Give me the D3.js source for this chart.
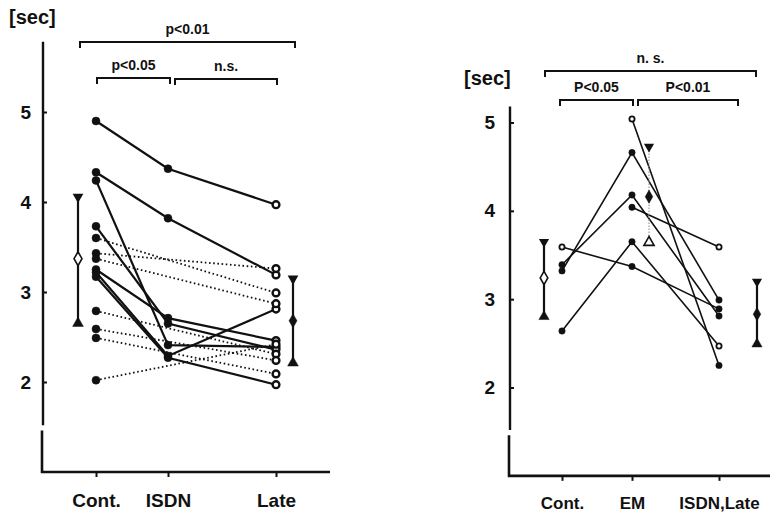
<!DOCTYPE html>
<html>
<head>
<meta charset="utf-8">
<script src="https://cdn.jsdelivr.net/npm/d3@7"></script>
<style>
  body { margin: 0; background: #fff; }
  text { font-family: "Liberation Sans", Arial, sans-serif; font-weight: bold; fill: #111; }
</style>
</head>
<body>
<svg id="chart" width="770" height="513"></svg>
<script>
const tickValues = [2, 3, 4, 5];

// left panel: Cont. -> ISDN -> Late
const leftCats = ["Cont.", "ISDN", "Late"];
const leftSolid = [
    [4.90, 4.37, 3.97],
    [4.33, 3.82, 3.19],
    [4.24, 2.41, 2.39],
    [3.73, 2.65, 2.36],
    [3.25, 2.71, 2.46],
    [3.22, 2.29, 2.81],
    [3.17, 2.27, 1.97]
];
// patients measured only at Cont. and Late (dotted)
const leftDottedCont = [3.60, 3.43, 3.37, 2.79, 2.59, 2.49, 2.02];
const leftDottedLate = [2.99, 3.26, 2.87, 2.31, 2.24, 2.09, 2.42];
const leftStatCats = ["Cont.", "Late"];
const leftHi = [4.08, 3.17];
const leftMean = [3.37, 2.68];
const leftLo = [2.63, 2.19];
const leftMeanOpen = [true, false];

// right panel: Cont. -> EM -> ISDN,Late
const rightCats = ["Cont.", "EM", "ISDN,Late"];
const rightSeries = [
    [3.59, 3.37, 2.89],
    [3.39, 4.18, 2.81],
    [3.32, 4.66, 2.99],
    [2.64, 3.65, 2.47],
    [null, 5.04, 2.25],
    [null, 4.04, 3.59]
];
const rightOpen = [
    [true, false, false],
    [false, false, false],
    [false, false, false],
    [false, false, true],
    [false, true, false],
    [false, false, true]
];
const rightHi = [3.67, 4.75, 3.22];
const rightMean = [3.24, 4.16, 2.83];
const rightLo = [2.78, 3.62, 2.47];
const rightMeanOpen = [true, false, false];
const rightLoOpen = [false, true, false];
const rightStatDotted = [false, true, false];

const svg = d3.select("#chart");

function drawAxes(p) {
    const g = svg.append("g");
    // y axis with a break near the bottom
    g.append("line").attr("x1", p.axisX).attr("x2", p.axisX)
        .attr("y1", p.y(p.top)).attr("y2", p.y(p.breakHi))
        .attr("stroke", "#111").attr("stroke-width", 2.4);
    g.append("path")
        .attr("d", `M${p.axisX - 1},${p.y(p.breakLo)}L${p.axisX - 1},${p.y(1)}L${p.xEnd},${p.y(1)}`)
        .attr("fill", "none").attr("stroke", "#111").attr("stroke-width", 2.6);

    const ya = g.append("g").attr("transform", `translate(${p.axisX},0)`)
        .call(d3.axisLeft(p.y).tickValues(tickValues).tickSize(-4).tickSizeOuter(0).tickPadding(p.labelPad).tickFormat(d3.format("d")));
    ya.select(".domain").remove();
    ya.selectAll(".tick line").attr("stroke", "#111").attr("stroke-width", 2);
    ya.selectAll(".tick text").attr("font-size", 19).attr("font-family", null).attr("fill", "#111");

    const xa = g.append("g").attr("transform", `translate(0,${p.y(1)})`)
        .call(d3.axisBottom(p.x).tickSize(5).tickSizeOuter(0).tickPadding(p.catPad));
    xa.select(".domain").remove();
    xa.selectAll(".tick line").attr("stroke", "#111").attr("stroke-width", 2);
    xa.selectAll(".tick text").attr("font-size", p.catSize).attr("font-family", null).attr("fill", "#111");

    g.append("text").attr("x", p.secX).attr("y", p.secY).attr("font-size", 20).text("[sec]");

    p.brackets.forEach(b => {
        g.append("path")
            .attr("d", `M${b.x1},${b.y + 6}V${b.y}H${b.x2}V${b.y + 6}`)
            .attr("fill", "none").attr("stroke", "#111").attr("stroke-width", 2);
        g.append("text").attr("x", (b.x1 + b.x2) / 2 + (b.dx || 0)).attr("y", b.y - 8)
            .attr("text-anchor", "middle").attr("font-size", 14).text(b.label);
    });
}

function drawStats(p, cats, hi, mean, lo, meanOpen, loOpen, dotted) {
    const g = svg.append("g");
    const tri = d3.symbol().type(d3.symbolTriangle).size(p.triSize);
    const dia = d3.symbol().type(d3.symbolDiamond).size(p.diaSize);
    cats.forEach((c, i) => {
        const x = p.sx(c);
        g.append("line").attr("x1", x).attr("x2", x)
            .attr("y1", p.y(hi[i])).attr("y2", p.y(lo[i]))
            .attr("stroke", dotted && dotted[i] ? "#999" : "#111")
            .attr("stroke-width", dotted && dotted[i] ? 1.2 : 2.2)
            .attr("stroke-dasharray", dotted && dotted[i] ? "1.5,1.5" : null);
        g.append("path").attr("d", tri)
            .attr("transform", `translate(${x},${p.y(hi[i]) + 2}) rotate(180)`)
            .attr("fill", "#111");
        const open = loOpen && loOpen[i];
        g.append("path").attr("d", tri)
            .attr("transform", `translate(${x},${p.y(lo[i]) - 2})`)
            .attr("fill", open ? "#fff" : "#111").attr("stroke", "#111").attr("stroke-width", open ? 1.6 : 0.5);
        g.append("path").attr("d", dia)
            .attr("transform", `translate(${x},${p.y(mean[i])})`)
            .attr("fill", meanOpen[i] ? "#fff" : "#111").attr("stroke", "#111").attr("stroke-width", meanOpen[i] ? 1.6 : 0.5);
    });
}

// ---------- left panel ----------
const leftY = d3.scaleLinear().domain([2, 5]).range([382, 112]);
const leftX = d3.scaleOrdinal().domain(leftCats).range([96, 168, 276]);
const leftSX = d3.scaleOrdinal().domain(leftStatCats).range([78, 293]);
const left = {
    x: leftX, y: leftY, sx: leftSX, axisX: 43, xEnd: 330, top: 5.78, breakHi: 1.52, breakLo: 1.46,
    labelPad: 12, catSize: 19, catPad: 17, secX: 9, secY: 24, triSize: 50, diaSize: 55,
    brackets: [
        {label: "p<0.01", x1: leftSX("Cont.") + 2, x2: leftSX("Late") + 2, y: 42},
        {label: "p<0.05", x1: leftX("Cont.") + 1, x2: leftX("ISDN") + 2, y: 78},
        {label: "n.s.", x1: leftX("ISDN") + 7, x2: leftX("Late") + 1, y: 79}
    ]
};
drawAxes(left);

const leftLine = d3.line().x((d, i) => leftX(leftCats[i])).y(d => leftY(d));
svg.append("g").selectAll("path.dot")
    .data(leftDottedCont.map((v, i) => [v, leftDottedLate[i]]))
    .join("path")
    .attr("d", d => `M${leftX("Cont.")},${leftY(d[0])}L${leftX("Late")},${leftY(d[1])}`)
    .attr("fill", "none").attr("stroke", "#111").attr("stroke-width", 1.8).attr("stroke-dasharray", "1.6,2.6");
svg.append("g").selectAll("path")
    .data(leftSolid).join("path")
    .attr("d", leftLine)
    .attr("fill", "none").attr("stroke", "#111").attr("stroke-width", 2.2);

const leftPts = [];
leftSolid.forEach(s => s.forEach((v, i) => leftPts.push({c: leftCats[i], v})));
leftDottedCont.forEach(v => leftPts.push({c: "Cont.", v}));
leftDottedLate.forEach(v => leftPts.push({c: "Late", v}));
svg.append("g").selectAll("circle").data(leftPts).join("circle")
    .attr("cx", d => leftX(d.c)).attr("cy", d => leftY(d.v))
    .attr("r", d => d.c === "Late" ? 3.4 : 4)
    .attr("fill", d => d.c === "Late" ? "#fff" : "#111")
    .attr("stroke", "#111").attr("stroke-width", d => d.c === "Late" ? 2.4 : 0.5);

drawStats(left, leftStatCats, leftHi, leftMean, leftLo, leftMeanOpen, null, null);

// ---------- right panel ----------
const rightY = d3.scaleLinear().domain([2, 5]).range([387.5, 122.5]);
const rightX = d3.scaleOrdinal().domain(rightCats).range([562, 632, 719]);
const rightSX = d3.scaleOrdinal().domain(rightCats).range([544, 649, 757]);
const right = {
    x: rightX, y: rightY, sx: rightSX, axisX: 510, xEnd: 770, top: 5.18, breakHi: 1.52, breakLo: 1.46,
    labelPad: 15, catSize: 17, catPad: 16, secX: 464, secY: 85, triSize: 45, diaSize: 50,
    brackets: [
        {label: "n. s.", x1: rightSX("Cont.") + 1, x2: rightSX("ISDN,Late") - 1, y: 71},
        {label: "P<0.05", x1: rightX("Cont.") - 2, x2: rightX("EM") + 1, y: 100},
        {label: "P<0.01", x1: rightX("EM") + 6, x2: rightX("ISDN,Late") + 19, y: 100}
    ]
};
drawAxes(right);

const rightLine = d3.line().defined(d => d !== null)
    .x((d, i) => rightX(rightCats[i])).y(d => rightY(d));
svg.append("g").selectAll("path")
    .data(rightSeries).join("path")
    .attr("d", rightLine)
    .attr("fill", "none").attr("stroke", "#111").attr("stroke-width", 1.6);

const rightPts = [];
rightSeries.forEach((s, k) => s.forEach((v, i) => {
    if (v !== null) rightPts.push({c: rightCats[i], v, open: rightOpen[k][i]});
}));
svg.append("g").selectAll("circle").data(rightPts).join("circle")
    .attr("cx", d => rightX(d.c)).attr("cy", d => rightY(d.v))
    .attr("r", d => d.open ? 2.6 : 3.2)
    .attr("fill", d => d.open ? "#fff" : "#111")
    .attr("stroke", "#111").attr("stroke-width", d => d.open ? 1.8 : 0.5);

drawStats(right, rightCats, rightHi, rightMean, rightLo, rightMeanOpen, rightLoOpen, rightStatDotted);
</script>
</body>
</html>
